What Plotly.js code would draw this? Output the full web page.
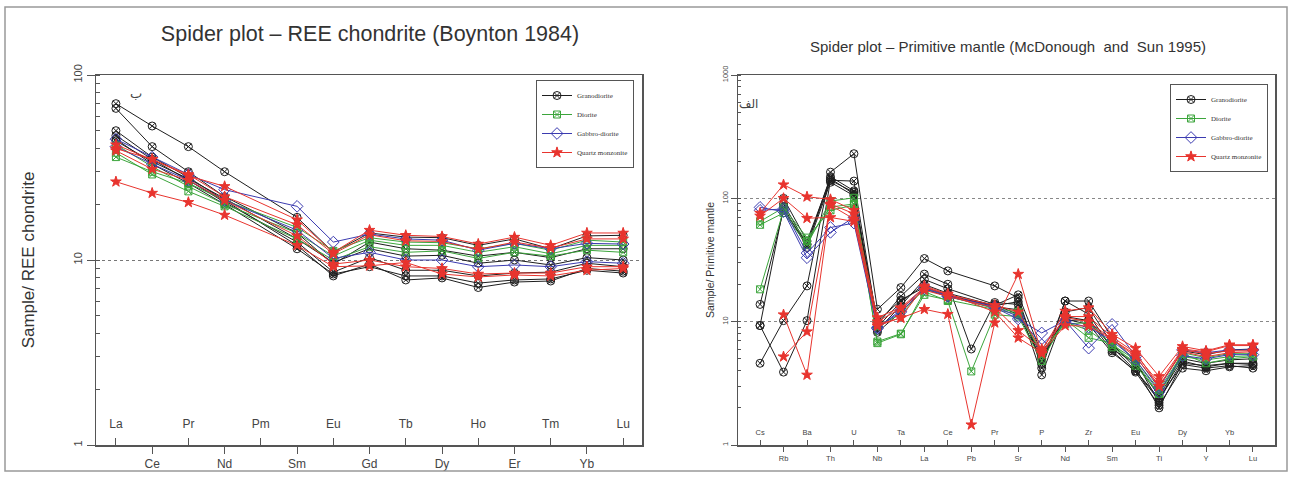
<!DOCTYPE html>
<html><head><meta charset="utf-8">
<script src="https://cdn.plot.ly/plotly-3.0.1.min.js"></script>
<style>html,body{margin:0;padding:0;background:#fff}#c{width:1291px;height:479px}</style>
</head><body><div id="c"></div><script>
// ---------- Left chart: REE normalised to chondrite (Boynton 1984) ----------
const reeElements = ['La','Ce','Pr','Nd','Pm','Sm','Eu','Gd','Tb','Dy','Ho','Er','Tm','Yb','Lu'];
const reeRock = ['Granodiorite','Granodiorite','Granodiorite','Granodiorite','Granodiorite','Granodiorite',
  'Diorite','Diorite','Diorite','Gabbro-diorite','Gabbro-diorite',
  'Quartz monzonite','Quartz monzonite','Quartz monzonite','Quartz monzonite'];
const reeG1 = [70, 53, 41, 30, null, 17, 11, 14, 13.3, 13.2, 12, 13, 11.5, 13.5, 13.6];
const reeG2 = [66, 41, 30, 22, null, 14, 9.5, 12.5, 11.5, 11.3, 10.5, 11, 10.3, 11.5, 11.5];
const reeG3 = [50, 36, 28, 21, null, 12, 8.2, 9.5, 7.8, 8, 7.1, 7.6, 7.7, 9, 8.7];
const reeG4 = [47, 35, 27, 20.5, null, 12.5, 8.6, 10.3, 8.8, 8.8, 8.2, 8.5, 8.6, 9.6, 9.2];
const reeG5 = [45, 33, 26, 20, null, 11.5, 8.4, 9.2, 8.2, 8.2, 7.5, 7.8, 7.9, 8.8, 8.5];
const reeG6 = [44, 34, 27.5, 21.5, null, 13, 9.7, 11.5, 10.5, 10.6, 9.6, 10, 9.4, 10.3, 10];
const reeD1 = [42, 32, 25, 20, null, 14, 10.5, 12.8, 12, 12, 11, 11.8, 10.8, 12, 12];
const reeD2 = [38, 29, 23.5, 19.5, null, 13, 10, 11.8, 11, 11.2, 10.2, 11, 10.5, 11.3, 11];
const reeD3 = [36, 30, 26, 21, null, 15, 11.2, 13.2, 12.5, 12.4, 11.5, 12.3, 11.3, 12.8, 12.5];
const reeB1 = [45, 36, 29, 24, null, 19.5, 12.5, 13.8, 13, 12.8, 11.3, 12.3, 11.5, 12.3, 12.2];
const reeB2 = [41, 33, 27, 21, null, 14.5, 10.2, 11, 10, 10, 9.2, 9.4, 9.2, 9.8, 9.6];
const reeQ1 = [40, 35, 28.5, 25, null, 16.5, 11, 14.5, 13.6, 13.4, 12.2, 13.3, 12, 14, 14];
const reeQ2 = [42, 35, 29, 22, null, 15.5, 10.8, 13.7, 12.7, 12.6, 11.4, 12.5, 11.6, 13, 13];
const reeQ3 = [26.5, 23, 20.5, 17.5, null, 12, 9.2, 9.3, 9.7, 8.4, 8.1, 8.3, 8.2, 8.8, 9];
const reeQ4 = [39, 31, 27, 21, null, 13.5, 9.5, 10, 9.2, 9, 8.4, 8.5, 8.5, 9.2, 9.2];
const reeSeries = [reeG1, reeG2, reeG3, reeG4, reeG5, reeG6, reeD1, reeD2, reeD3, reeB1, reeB2, reeQ1, reeQ2, reeQ3, reeQ4];

// ---------- Right chart: normalised to primitive mantle (McDonough and Sun 1995) ----------
const pmElements = ['Cs','Rb','Ba','Th','U','Nb','Ta','La','Ce','Pb','Pr','Sr','P','Nd','Zr','Sm','Eu','Ti','Dy','Y','Yb','Lu'];
const pmRock = reeRock;
const pmG1 = [4.6, 10.2, 19.5, 163, 230, 12.6, 18.9, 32.5, 25.8, null, 19.5, 15.6, 4.2, 14.7, 14.7, 7.4, 4.8, 2.2, 5.8, 5.4, 5.9, 6.0];
const pmG2 = [13.8, 80, 42.6, 140, 138, 9.5, 16.1, 24.3, 20.1, 6.0, 14.3, 13.8, 3.7, 12.0, 13.0, 6.6, 4.2, 2.0, 4.6, 4.4, 4.6, 4.6];
const pmG3 = [9.3, 3.9, 10.2, 140, 112, 8.5, 13.5, 22, 18.5, null, 13.8, 11.4, 5.0, 10.2, 10.4, 6.2, 4.0, 2.3, 4.8, 4.3, 4.6, 4.5];
const pmG4 = [null, 90, 42, 150, 115, 9.0, 14.5, 20, 17, null, 13.5, 14.5, 4.5, 14.7, 11.5, 6.0, 4.6, 2.5, 5.0, 4.6, 4.9, 5.0];
const pmG5 = [9.3, 85, 40, 135, 105, 10, 15, 19, 16.5, null, 13.2, 12.5, 5.2, 11, 10.2, 5.8, 3.9, 2.1, 4.2, 4.0, 4.3, 4.4];
const pmG6 = [null, 100, 45, 145, 108, 8.2, 12, 18.5, 16, null, 13.6, 16.5, 5.5, 10.5, 9.5, 5.6, 4.0, 2.4, 4.5, 4.2, 4.4, 4.2];
const pmD1 = [61, 76, 42, 95, 101, 6.7, 7.9, 17.5, 14.7, 3.95, 11.4, 11, 4.8, 10.4, 7.4, 6.7, 4.4, 2.6, 5.2, 4.9, 5.2, 5.3];
const pmD2 = [18.3, 80, 45, 85, 90, 6.9, 8.0, 16.5, 15, null, 12.5, 11.5, 5.6, 10, 8.5, 6.2, 4.7, 2.6, 5.6, 5.1, 5.5, 5.5];
const pmD3 = [65, 84, 48, 80, 88, 9.2, 11.5, 18.5, 16, null, 12.8, 12, 5.8, 9.6, 9.8, 6.5, 4.9, 2.8, 5.5, 4.6, 5.0, 5.2];
const pmB1 = [84.5, 78, 33, 53, 70, 9.0, 12, 18.5, 16, null, 13, 10.5, 8.1, 10.2, 6.1, 9.5, 5.2, 2.9, 5.9, 5.6, 5.9, 5.9];
const pmB2 = [80, 82, 36, 58, 63, 8.8, 12.5, 19, 16.2, null, 13.3, 11, 6.5, 10, 9, 7, 4.9, 2.7, 5.3, 5.0, 5.4, 5.4];
const pmQ1 = [76, 129, 103, 98, 80, 10.8, 13, 19, 16.6, null, 13.6, 12, 5.8, 12.2, 13, 7.9, 6.1, 3.6, 6.3, 5.8, 6.5, 6.5];
const pmQ2 = [72, 100, 69, 70, 65, 9.5, 10.7, 12.6, 11.5, 1.46, 9.8, 24.3, 5.5, 11, 11, 7.5, 5.6, 3.0, 5.9, 5.5, 5.8, 5.8];
const pmQ3 = [null, 11.4, 3.7, 90, 75, 9.2, 10.8, 19.5, 16.8, null, 12, 7.4, 5.6, 9.3, 9.2, 7.2, 5.4, 3.2, 6.0, 5.7, 6.4, 6.4];
const pmQ4 = [null, 5.2, 8.3, 88, 68, 10, 12.8, 18, 16, null, 13, 8.5, 6.0, 10.8, 10, 7.2, 5.2, 3.0, 5.7, 5.2, 5.6, 5.7];
const pmSeries = [pmG1, pmG2, pmG3, pmG4, pmG5, pmG6, pmD1, pmD2, pmD3, pmB1, pmB2, pmQ1, pmQ2, pmQ3, pmQ4];

const rockStyle = {
  'Granodiorite':     {color:'#1e1e1e', symbol:'circle-x-open', size:8},
  'Diorite':          {color:'#3ca53c', symbol:'square-x-open', size:7},
  'Gabbro-diorite':   {color:'#3b3bb0', symbol:'diamond-open', size:9},
  'Quartz monzonite': {color:'#e8342e', symbol:'star', size:8}
};

const traces = [];
function addSeries(series, rocks, elements, xa, ya, legendId) {
  const seen = {};
  const xs = elements.map((e, i) => i);
  series.forEach((vals, k) => {
    const r = rocks[k], st = rockStyle[r];
    traces.push({
      type:'scatter', mode:'lines+markers', x: xs, y: vals, name: r,
      xaxis: xa, yaxis: ya, legend: legendId, legendgroup: legendId + r,
      showlegend: !seen[r], connectgaps: true,
      line: {color: st.color, width: 1},
      marker: {color: st.color, symbol: st.symbol, size: st.size, line: {color: st.color, width: 1}},
      text: elements, hovertemplate: '%{text}: %{y}<extra>' + r + '</extra>'
    });
    seen[r] = true;
  });
}
addSeries(reeSeries, reeRock, reeElements, 'x', 'y', 'legend');
addSeries(pmSeries, pmRock, pmElements, 'x2', 'y2', 'legend2');
// placeholder traces so the overlaid label axes (labels drawn above the bottom line) get drawn
traces.push({type:'scatter', mode:'markers', x:[null], y:[null], xaxis:'x3', yaxis:'y', showlegend:false, hoverinfo:'skip'});
traces.push({type:'scatter', mode:'markers', x:[null], y:[null], xaxis:'x4', yaxis:'y2', showlegend:false, hoverinfo:'skip'});

const W = 1291, H = 479;
const px = v => v / W, py = v => 1 - v / H;
const axisCol = '#555';
const LD = [px(96), px(642)], RD = [px(738), px(1275)], YD = [py(445), py(75)];
const LR = [-0.55, 14.52], RR = [-0.94, 21.94];

const reeIdx = reeElements.map((e, i) => i);
const pmIdx = pmElements.map((e, i) => i);
const inner = arr => arr.filter((e, i) => i % 2 === 0);  // labels drawn inside the frame
const outer = arr => arr.filter((e, i) => i % 2 === 1);  // labels drawn below the axis

const baseX = {showgrid:false, zeroline:false, linecolor:axisCol, linewidth:1.5, tickcolor:axisCol,
  tickfont:{family:'Liberation Sans', size:12, color:'#444'}};
const smallFont = {family:'Liberation Sans', size:7.5, color:'#444'};

const layout = {
  width: W, height: H, margin:{l:0, r:0, t:0, b:0}, paper_bgcolor:'#fff', plot_bgcolor:'rgba(0,0,0,0)',
  showlegend: true, hovermode:'closest',
  title: {text:'Spider plot – REE chondrite (Boynton 1984)', x: px(370), y: py(33), xanchor:'center', yanchor:'middle',
    font:{family:'Liberation Sans', size:21.5, color:'#333'}},
  xaxis: Object.assign({}, baseX, {domain: LD, anchor:'y', range: LR, mirror:true, showline:true,
    tickvals: outer(reeIdx), ticktext: outer(reeElements), ticks:'outside', ticklen:7}),
  xaxis3: Object.assign({}, baseX, {overlaying:'x', anchor:'free', position: YD[0], side:'top', range: LR, showline:false,
    tickvals: inner(reeIdx), ticktext: inner(reeElements), ticks:'outside', ticklen:7, ticklabelstandoff:5}),
  yaxis: {domain: YD, anchor:'x', type:'log', range:[0, 2], showline:true, mirror:true, linecolor:axisCol, linewidth:1.5,
    tickvals:[1, 10, 100], ticktext:['1','10','100'], ticks:'outside', ticklen:8, tickcolor:axisCol, tickangle:-90,
    tickfont:{family:'Liberation Sans', size:11, color:'#444'},
    showgrid:true, gridcolor:'#777', griddash:'dot', gridwidth:1, zeroline:false,
    minor:{ticks:'inside', ticklen:4, tickcolor:axisCol, dtick:'D1', showgrid:false},
    title:{text:'Sample/ REE chondrite', font:{family:'Liberation Sans', size:17, color:'#333'}, standoff:33}},
  xaxis2: Object.assign({}, baseX, {domain: RD, anchor:'y2', range: RR, mirror:true, showline:true,
    tickvals: outer(pmIdx), ticktext: outer(pmElements), ticks:'outside', ticklen:5, tickfont: smallFont}),
  xaxis4: Object.assign({}, baseX, {overlaying:'x2', anchor:'free', position: YD[0], side:'top', range: RR, showline:false,
    tickvals: inner(pmIdx), ticktext: inner(pmElements), ticks:'outside', ticklen:5, ticklabelstandoff:2,
    tickfont: smallFont}),
  yaxis2: {domain: YD, anchor:'x2', type:'log', range:[0, 3], showline:true, mirror:true, linecolor:axisCol, linewidth:1.5,
    tickvals:[1, 10, 100, 1000], ticktext:['1','10','100','1000'], ticks:'outside', ticklen:6, tickcolor:axisCol, tickangle:-90,
    tickfont: smallFont,
    showgrid:true, gridcolor:'#888', griddash:'dot', gridwidth:1, zeroline:false,
    minor:{ticks:'inside', ticklen:3, tickcolor:axisCol, dtick:'D1', showgrid:false},
    title:{text:'Sample/ Primitive mantle', font:{family:'Liberation Sans', size:10.5, color:'#333'}, standoff:4}},
  legend: {x: px(536), y: py(80), xanchor:'left', yanchor:'top', bgcolor:'#fff', bordercolor:'#555', borderwidth:1,
    font:{family:'Liberation Serif', size:7, color:'#333'}, itemwidth:30, tracegroupgap:0},
  legend2: {x: px(1170), y: py(84), xanchor:'left', yanchor:'top', bgcolor:'#fff', bordercolor:'#555', borderwidth:1,
    font:{family:'Liberation Serif', size:7, color:'#333'}, itemwidth:30, tracegroupgap:0},
  annotations: [
    {text:'Spider plot – Primitive mantle (McDonough  and  Sun 1995)', xref:'paper', yref:'paper', x: px(1008), y: py(46),
      xanchor:'center', yanchor:'middle', showarrow:false, font:{family:'Liberation Sans', size:15, color:'#333'}},
    {text:'ب', xref:'paper', yref:'paper', x: px(128), y: py(84), showarrow:false, font:{family:'DejaVu Sans', size:13, color:'#444'}},
    {text:'الف', xref:'paper', yref:'paper', x: px(748), y: py(95), showarrow:false, font:{family:'DejaVu Sans', size:12, color:'#444'}}
  ],
  shapes: [
    {type:'rect', xref:'paper', yref:'paper', x0: px(5), x1: px(1287), y0: py(471), y1: py(7), line:{color:'#999', width:1.5}}
  ]
};

Plotly.newPlot('c', traces, layout, {displayModeBar:false, staticPlot:true});
</script></body></html>
